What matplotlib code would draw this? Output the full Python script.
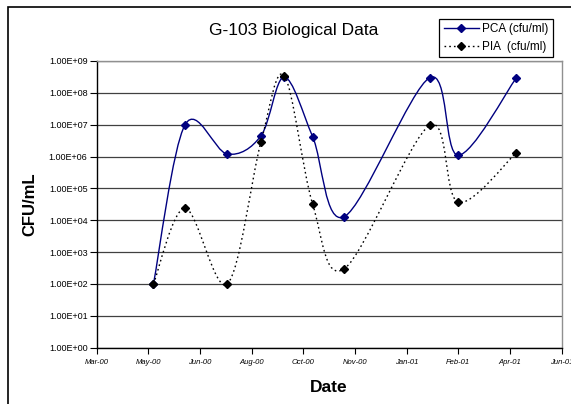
import datetime as dt

import matplotlib
matplotlib.use("Agg")
import matplotlib.pyplot as plt
import matplotlib.dates as mdates
import numpy as np
from matplotlib.lines import Line2D
from matplotlib.patches import PathPatch, Rectangle
from matplotlib.path import Path
from matplotlib.ticker import FuncFormatter, FixedLocator

plt.rcParams['font.family'] = ['Liberation Sans', 'DejaVu Sans']

# sample dates and counts
dates = [dt.date(2000, 5, 13), dt.date(2000, 6, 12), dt.date(2000, 7, 22),
         dt.date(2000, 8, 23), dt.date(2000, 9, 14), dt.date(2000, 10, 11),
         dt.date(2000, 11, 10), dt.date(2001, 1, 30), dt.date(2001, 2, 26),
         dt.date(2001, 4, 22)]
pca = [1.0e2, 1.0e7, 1.2e6, 4.5e6, 3.1e8, 4.2e6, 1.3e4, 3.0e8, 1.1e6, 2.9e8]
pia = [1.0e2, 2.4e4, 1.0e2, 2.9e6, 3.5e8, 3.2e4, 3.0e2, 9.6e6, 3.7e4, 1.3e6]

axis_start = dt.date(2000, 3, 20)
tick_step_days = 49
n_ticks = 10


def smooth_path(xs, ys):
    # Excel style smoothed line: cubic bezier through the points,
    # control points from neighbours (catmull-rom, 1/6), in x / log10(y) space
    lx = np.asarray(xs, dtype=float)
    ly = np.log10(ys)
    n = len(lx)
    verts = [(lx[0], ys[0])]
    codes = [Path.MOVETO]
    for i in range(n - 1):
        i0 = max(i - 1, 0)
        i3 = min(i + 2, n - 1)
        c1x = lx[i] + (lx[i + 1] - lx[i0]) / 6
        c1y = ly[i] + (ly[i + 1] - ly[i0]) / 6
        c2x = lx[i + 1] - (lx[i3] - lx[i]) / 6
        c2y = ly[i + 1] - (ly[i3] - ly[i]) / 6
        verts += [(c1x, 10 ** c1y), (c2x, 10 ** c2y), (lx[i + 1], ys[i + 1])]
        codes += [Path.CURVE4] * 3
    return Path(verts, codes)


fig = plt.figure(figsize=(5.71, 4.04), dpi=100)
W, H = 571, 404

# outer chart border (cut off on the right and bottom)
fig.patches.append(Rectangle((8 / W, -0.1), 1.2, 1 - 7 / H + 0.1,
                             transform=fig.transFigure, fill=False,
                             edgecolor='black', linewidth=1.2))

ax = fig.add_axes([96.5 / W, 1 - 347.7 / H, (561.5 - 96.5) / W, (347.7 - 61) / H])
ax.set_yscale('log')

x0 = mdates.date2num(axis_start)
xnum = mdates.date2num(dates)
ax.set_xlim(x0, x0 + tick_step_days * (n_ticks - 1))
ax.set_ylim(1, 1e9)

ax.add_patch(PathPatch(smooth_path(xnum, pca), fill=False, edgecolor='#000080',
                       linewidth=1.0, zorder=3))
ax.add_patch(PathPatch(smooth_path(xnum, pia), fill=False, edgecolor='black',
                       linewidth=1.0, linestyle=(0, (1.2, 2.2)), zorder=3))
ax.plot(xnum, pca, linestyle='none', marker='D', markersize=4.5,
        color='#000080', zorder=4)
ax.plot(xnum, pia, linestyle='none', marker='D', markersize=4.5,
        color='black', zorder=4)

ax.xaxis.set_major_locator(FixedLocator([x0 + tick_step_days * k for k in range(n_ticks)]))
ax.xaxis.set_major_formatter(mdates.DateFormatter('%b-%y'))
ax.yaxis.set_major_locator(FixedLocator([10.0 ** k for k in range(10)]))
ax.yaxis.set_minor_locator(FixedLocator([]))
ax.yaxis.set_major_formatter(FuncFormatter(lambda v, p: f"{v:.2E}"))

ax.grid(axis='y', color='#404040', linewidth=0.9)
ax.set_axisbelow(True)
for s in ('top', 'right'):
    ax.spines[s].set_color('#909090')
    ax.spines[s].set_linewidth(1.0)
for s in ('left', 'bottom'):
    ax.spines[s].set_color('black')
    ax.spines[s].set_linewidth(1.0)

ax.tick_params(axis='y', direction='out', length=5, width=0.8, pad=1.5,
               labelsize=6.5)
ax.tick_params(axis='x', direction='out', length=4, width=0.8, pad=4,
               labelsize=5.5)
for lab in ax.get_xticklabels():
    lab.set_fontstyle('italic')

ax.set_xlabel('Date', fontsize=12.5, fontweight='bold', labelpad=10)
ax.set_ylabel('CFU/mL', fontsize=12, fontweight='bold', labelpad=8)

fig.text(294 / W, 1 - 31 / H, 'G-103 Biological Data', fontsize=12.5,
         ha='center', va='center')

handles = [Line2D([], [], color='#000080', marker='D', markersize=4.5, linewidth=1.0),
           Line2D([], [], color='black', marker='D', markersize=4.5, linewidth=1.0,
                  linestyle=(0, (1.2, 2.2)))]
leg = fig.legend(handles, ['PCA (cfu/ml)', 'PIA  (cfu/ml)'],
                 loc='upper right', bbox_to_anchor=(553 / W, 1 - 19 / H),
                 fontsize=8.5, frameon=True, fancybox=False, framealpha=1,
                 edgecolor='black', handlelength=3.0, handletextpad=0.3,
                 borderpad=0.35, labelspacing=0.5, borderaxespad=0)
leg.get_frame().set_linewidth(0.9)

fig.savefig('out.png', dpi=100)
